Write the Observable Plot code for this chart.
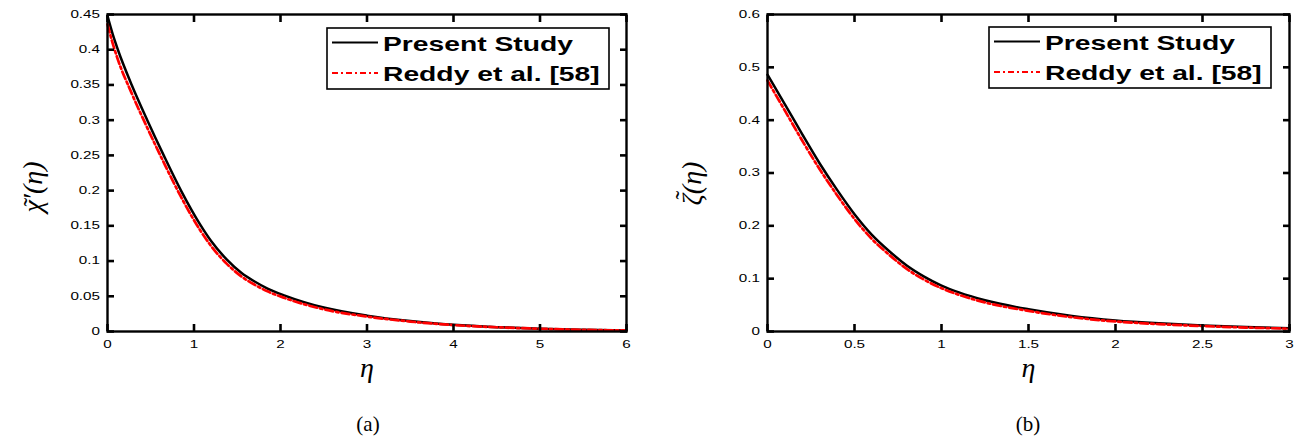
<!DOCTYPE html>
<html>
<head>
<meta charset="utf-8">
<script src="https://cdn.jsdelivr.net/npm/d3@7"></script>
<script src="https://cdn.jsdelivr.net/npm/@observablehq/plot@0.6"></script>
<style>
  html, body { margin: 0; padding: 0; background: #fff; }
  #wrap { position: relative; width: 1304px; height: 445px; overflow: hidden; background: #fff; }
  .panel { position: absolute; top: 0; }
  .legend { position: absolute; }
  .cap { position: absolute; width: 100px; text-align: center; font-family: "Liberation Serif", "DejaVu Serif", serif; font-size: 21px; line-height: 21px; color: #000; }
</style>
</head>
<body>
<div id="wrap"></div>
<script>
// ---------- data ----------
// Panel (a): chi~'(eta)
const etaA = [0, 0.06, 0.12, 0.28, 0.46, 0.65, 0.85, 1.07, 1.2, 1.38, 1.55, 1.7, 1.85, 2.05, 2.5, 3, 3.5, 4, 4.5, 5, 5.5, 6];
const presentA = [0.448, 0.422, 0.4, 0.35, 0.3, 0.25, 0.2, 0.152, 0.128, 0.102, 0.083, 0.071, 0.061, 0.051, 0.034, 0.0225, 0.0148, 0.0095, 0.0062, 0.004, 0.0025, 0.0015];
const reddyA = [0.436, 0.409, 0.386, 0.338, 0.289, 0.24, 0.191, 0.144, 0.121, 0.096, 0.078, 0.0665, 0.057, 0.0475, 0.0315, 0.0212, 0.0141, 0.0091, 0.006, 0.0039, 0.0024, 0.0014];
// Panel (b): zeta~(eta)
const etaB = [0, 0.1, 0.2, 0.3, 0.4, 0.5, 0.6, 0.7, 0.8, 0.9, 1.0, 1.1, 1.25, 1.5, 1.75, 2.0, 2.25, 2.5, 2.75, 3.0];
const presentB = [0.486, 0.43, 0.373, 0.318, 0.268, 0.222, 0.183, 0.152, 0.125, 0.104, 0.087, 0.074, 0.059, 0.042, 0.0295, 0.021, 0.0155, 0.0115, 0.0085, 0.0062];
const reddyB = [0.475, 0.418, 0.361, 0.307, 0.258, 0.213, 0.175, 0.145, 0.1185, 0.098, 0.082, 0.0695, 0.055, 0.039, 0.027, 0.019, 0.014, 0.0103, 0.0075, 0.0054];

const xTicksA = [0, 1, 2, 3, 4, 5, 6];
const yTicksA = [0, 0.05, 0.1, 0.15, 0.2, 0.25, 0.3, 0.35, 0.4, 0.45];
const xTicksB = [0, 0.5, 1, 1.5, 2, 2.5, 3];
const yTicksB = [0, 0.1, 0.2, 0.3, 0.4, 0.5, 0.6];

const seriesNames = ["Present Study", "Reddy et al. [58]"];
const seriesColors = ["#000000", "#ff0000"];
// y labels: base text + tilde accent drawn over the first letter
const yLabelA = "\u03C7\u2032(\u03B7)";
const yLabelB = "\u03B6(\u03B7)";
const tildeAccent = "\u02DC";
const xLabel = "\u03B7";
const captions = ["(a)", "(b)"];

// ---------- helpers ----------
const SX = 1.45; // horizontal stretch of the original figure text
const W = 652, H = 396, MT = 14, MB = 65, TICK = 7;
const mathFont = "'Liberation Serif', 'DejaVu Serif', serif";

function appendTransform(root, selector, extra) {
  root.querySelectorAll(selector).forEach(t => {
    const tr = t.getAttribute("transform") || "";
    t.setAttribute("transform", tr + " " + extra);
  });
}

function panel({eta, present, reddy, xDomain, yDomain, xTicks, yTicks, yLabel, marginLeft, marginRight, yLabelX, yLabelBottom, tildeDx}) {
  const rows = eta.map((e, i) => ({eta: e, present: present[i], reddy: reddy[i]}));
  const tickOpts = {tickSize: TICK, strokeWidth: 2.6, stroke: "#000", tickFormat: () => "", label: null};
  const midY = (MT + (H - MB)) / 2;
  const chart = Plot.plot({
    width: W,
    height: H,
    marginLeft,
    marginRight,
    marginTop: MT,
    marginBottom: MB,
    style: {fontFamily: "'Liberation Sans', Arial, sans-serif", fontSize: "10.5px", color: "#000", background: "#fff", overflow: "visible"},
    x: {domain: xDomain},
    y: {domain: yDomain},
    marks: [
      Plot.line(rows, {x: "eta", y: "present", stroke: seriesColors[0], strokeWidth: 2.5, curve: "monotone-x"}),
      Plot.line(rows, {x: "eta", y: "reddy", stroke: seriesColors[1], strokeWidth: 2.7, strokeDasharray: "8,3,2.5,3", curve: "monotone-x"}),
      Plot.frame({stroke: "#000", strokeWidth: 2.4}),
      // inward ticks on all four sides: outward axis ticks shifted inward by their own length
      Plot.axisX({anchor: "bottom", ticks: xTicks, dy: -TICK, ...tickOpts}),
      Plot.axisX({anchor: "top", ticks: xTicks, dy: TICK, ...tickOpts}),
      Plot.axisY({anchor: "left", ticks: yTicks, dx: TICK, ...tickOpts}),
      Plot.axisY({anchor: "right", ticks: yTicks, dx: -TICK, ...tickOpts}),
      Plot.axisX({anchor: "bottom", ticks: xTicks, tickSize: 0, tickPadding: 9, tickFormat: d => String(d), label: null}),
      Plot.axisY({anchor: "left", ticks: yTicks, tickSize: 0, tickPadding: 7.5, tickFormat: d => String(d), label: null}),
      Plot.text([xLabel], {frameAnchor: "bottom", dy: 45, text: d => d, fontSize: 28, fontStyle: "italic", fontFamily: mathFont, fill: "#000", ariaLabel: "xlabel"}),
      Plot.text([yLabel], {frameAnchor: "left", dx: yLabelX - marginLeft, dy: yLabelBottom - midY, rotate: -90, textAnchor: "start", text: d => d, fontSize: 28, fontStyle: "italic", fontFamily: mathFont, fill: "#000", ariaLabel: "ylabel"}),
      Plot.text([tildeAccent], {frameAnchor: "left", dx: yLabelX - marginLeft + tildeDx, dy: yLabelBottom - midY - 6, rotate: -90, textAnchor: "start", text: d => d, fontSize: 26, fontFamily: mathFont, fill: "#000", ariaLabel: "ylabel"})
    ]
  });
  appendTransform(chart, 'g[aria-label="x-axis tick label"] text', `scale(${SX},1)`);
  appendTransform(chart, 'g[aria-label="y-axis tick label"] text', `scale(${SX},1)`);
  appendTransform(chart, 'g[aria-label="xlabel"] text', `scale(1.35,1)`);
  appendTransform(chart, 'g[aria-label="ylabel"] text', `scale(1.3,1)`);
  return chart;
}

function legendSvg() {
  const w = 284, h = 63;
  const rows = [15.5, 46];
  let s = `<svg width="${w}" height="${h}" xmlns="http://www.w3.org/2000/svg">`;
  s += `<rect x="1" y="1" width="${w - 2}" height="${h - 2}" fill="#fff" stroke="#000" stroke-width="1.6"/>`;
  seriesNames.forEach((name, i) => {
    const y = rows[i];
    const dash = i === 1 ? ` stroke-dasharray="6,3,2,3"` : "";
    s += `<line x1="6" x2="52" y1="${y}" y2="${y}" stroke="${seriesColors[i]}" stroke-width="2"${dash}/>`;
    s += `<text transform="translate(57,${y + 8}) scale(${SX},1)" font-family="'Liberation Sans', Arial, sans-serif" font-weight="bold" font-size="19.5" fill="#000">${name}</text>`;
  });
  s += `</svg>`;
  return s;
}

// ---------- layout ----------
const wrap = document.getElementById("wrap");

const pA = document.createElement("div");
pA.className = "panel"; pA.style.left = "0px";
pA.appendChild(panel({eta: etaA, present: presentA, reddy: reddyA, xDomain: [0, 6], yDomain: [0, 0.45], xTicks: xTicksA, yTicks: yTicksA, yLabel: yLabelA, marginLeft: 107, marginRight: 26, yLabelX: 33, yLabelBottom: 212, tildeDx: -1}));
wrap.appendChild(pA);

const pB = document.createElement("div");
pB.className = "panel"; pB.style.left = "652px";
pB.appendChild(panel({eta: etaB, present: presentB, reddy: reddyB, xDomain: [0, 3], yDomain: [0, 0.6], xTicks: xTicksB, yTicks: yTicksB, yLabel: yLabelB, marginLeft: 115, marginRight: 15, yLabelX: 40, yLabelBottom: 205, tildeDx: -8}));
wrap.appendChild(pB);

[[326, 27], [988, 26]].forEach(([x, y]) => {
  const d = document.createElement("div");
  d.className = "legend";
  d.style.left = x + "px"; d.style.top = y + "px";
  d.innerHTML = legendSvg();
  wrap.appendChild(d);
});

[[368, captions[0]], [1028, captions[1]]].forEach(([cx, t]) => {
  const d = document.createElement("div");
  d.className = "cap";
  d.style.left = (cx - 50) + "px"; d.style.top = "414px";
  d.textContent = t;
  wrap.appendChild(d);
});
</script>
</body>
</html>
